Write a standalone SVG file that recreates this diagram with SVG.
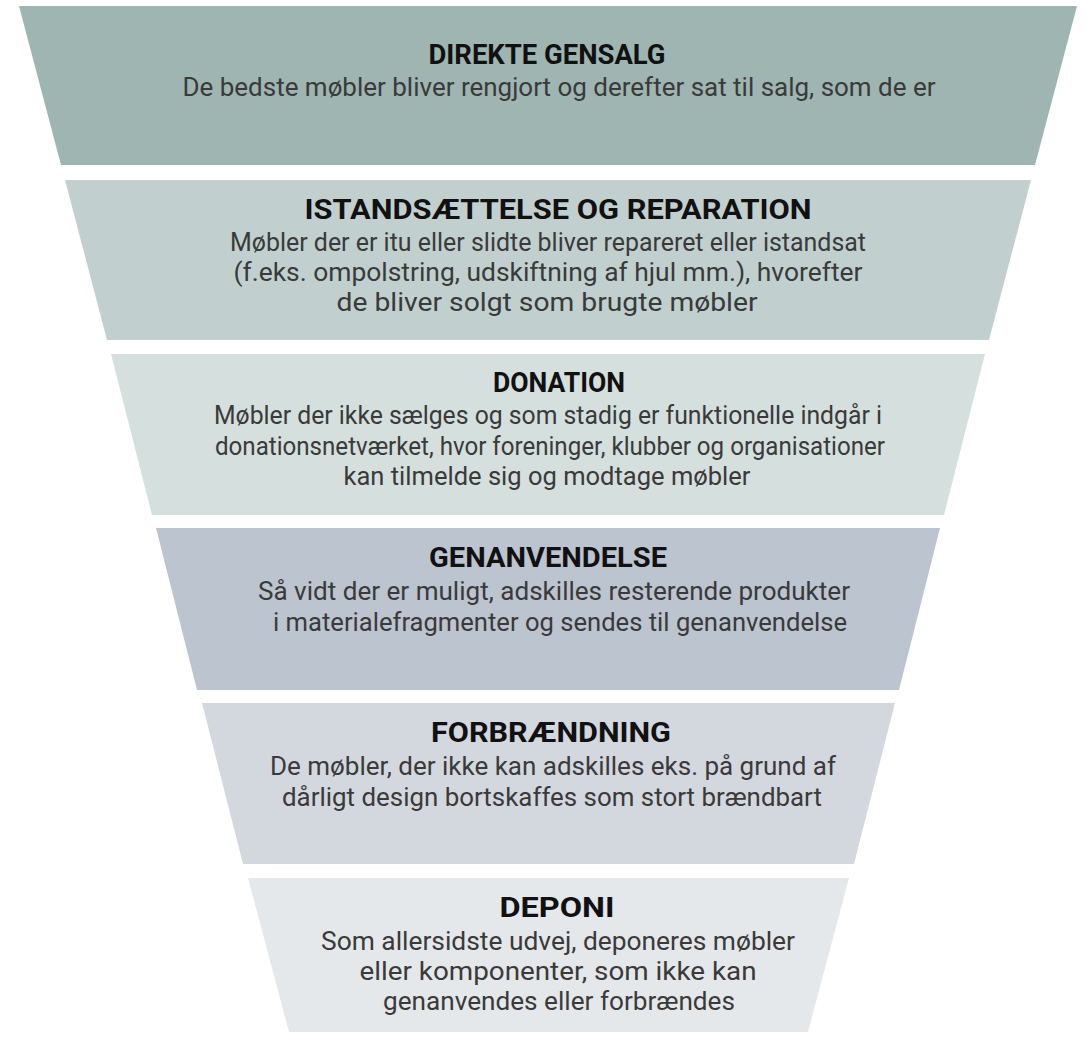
<svg xmlns="http://www.w3.org/2000/svg" width="1087" height="1037" viewBox="0 0 1087 1037">
<style>
.t{font-family:Roboto,"Liberation Sans",sans-serif;font-weight:700;font-size:27px;fill:#111;text-anchor:middle}
.b{font-family:Roboto,"Liberation Sans",sans-serif;font-weight:400;font-size:26px;fill:#3a3a3a;text-anchor:middle}
</style>
<rect width="1087" height="1037" fill="#fff"/>
<g id="direkte-gensalg">
<polygon points="19,6 1077,6 1035,165 61,165" fill="#9eb5b2"/>
<text class="t" x="547" y="64" textLength="237" lengthAdjust="spacingAndGlyphs">DIREKTE GENSALG</text>
<text class="b" x="559" y="96" textLength="753" lengthAdjust="spacingAndGlyphs">De bedste møbler bliver rengjort og derefter sat til salg, som de er</text>
</g>
<g id="istandsaettelse">
<polygon points="65,180 1031,180 989,340 107,340" fill="#c1d0cf"/>
<text class="t" x="558" y="219" textLength="507" lengthAdjust="spacingAndGlyphs">ISTANDSÆTTELSE OG REPARATION</text>
<text class="b" x="548" y="251" textLength="636" lengthAdjust="spacingAndGlyphs">Møbler der er itu eller slidte bliver repareret eller istandsat</text>
<text class="b" x="548" y="281" textLength="629" lengthAdjust="spacingAndGlyphs">(f.eks. ompolstring, udskiftning af hjul mm.), hvorefter</text>
<text class="b" x="547" y="311" textLength="421" lengthAdjust="spacingAndGlyphs">de bliver solgt som brugte møbler</text>
</g>
<g id="donation">
<polygon points="111,354 985,354 944,515 152,515" fill="#d5e0de"/>
<text class="t" x="559" y="392" textLength="132" lengthAdjust="spacingAndGlyphs">DONATION</text>
<text class="b" x="548" y="424" textLength="668" lengthAdjust="spacingAndGlyphs">Møbler der ikke sælges og som stadig er funktionelle indgår i</text>
<text class="b" x="550" y="455" textLength="670" lengthAdjust="spacingAndGlyphs">donationsnetværket, hvor foreninger, klubber og organisationer</text>
<text class="b" x="547" y="485" textLength="407" lengthAdjust="spacingAndGlyphs">kan tilmelde sig og modtage møbler</text>
</g>
<g id="genanvendelse">
<polygon points="156,528 940,528 899,690 197,690" fill="#bcc4d0"/>
<text class="t" x="548" y="567" textLength="238" lengthAdjust="spacingAndGlyphs">GENANVENDELSE</text>
<text class="b" x="554" y="600" textLength="592" lengthAdjust="spacingAndGlyphs">Så vidt der er muligt, adskilles resterende produkter</text>
<text class="b" x="560" y="631" textLength="574" lengthAdjust="spacingAndGlyphs">i materialefragmenter og sendes til genanvendelse</text>
</g>
<g id="forbraendning">
<polygon points="202,703 895,703 854,864 243,864" fill="#d3d8de"/>
<text class="t" x="551" y="742" textLength="240" lengthAdjust="spacingAndGlyphs">FORBRÆNDNING</text>
<text class="b" x="553" y="775" textLength="566" lengthAdjust="spacingAndGlyphs">De møbler, der ikke kan adskilles eks. på grund af</text>
<text class="b" x="552" y="806" textLength="540" lengthAdjust="spacingAndGlyphs">dårligt design bortskaffes som stort brændbart</text>
</g>
<g id="deponi">
<polygon points="248,878 849,878 808,1032 289,1032" fill="#e5e8eb"/>
<text class="t" x="557" y="917" textLength="115" lengthAdjust="spacingAndGlyphs">DEPONI</text>
<text class="b" x="558" y="950" textLength="474" lengthAdjust="spacingAndGlyphs">Som allersidste udvej, deponeres møbler</text>
<text class="b" x="558" y="980" textLength="397" lengthAdjust="spacingAndGlyphs">eller komponenter, som ikke kan</text>
<text class="b" x="559" y="1010" textLength="352" lengthAdjust="spacingAndGlyphs">genanvendes eller forbrændes</text>
</g>
<g id="connectors"/>
</svg>
